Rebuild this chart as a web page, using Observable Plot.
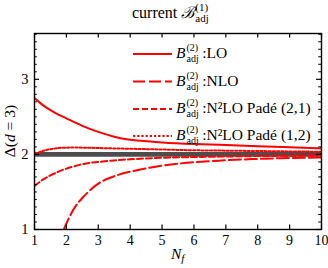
<!DOCTYPE html>
<html><head><meta charset="utf-8">
<script src="https://cdn.jsdelivr.net/npm/d3@7"></script>
<script src="https://cdn.jsdelivr.net/npm/@observablehq/plot@0.6"></script>
<style>body{margin:0;background:#fff} svg{display:block}</style>
</head><body><div id="chart"></div>
<script>
// ---- data ----
const nfLO   = [1, 1.25, 1.5, 1.75, 2, 2.5, 3, 3.5, 4, 5, 6, 7, 8, 9, 10];
const valLO  = [2.75, 2.66, 2.59, 2.53, 2.48, 2.38, 2.30, 2.235, 2.195, 2.16, 2.14, 2.125, 2.11, 2.095, 2.08];
const nfNLO  = [1.92, 2, 2.2, 2.5, 3, 3.5, 4, 5, 6, 7, 8, 9, 10];
const valNLO = [1.0, 1.08, 1.25, 1.42, 1.61, 1.71, 1.77, 1.85, 1.895, 1.922, 1.94, 1.952, 1.96];
const nfP21  = [1, 1.25, 1.5, 1.75, 2, 2.5, 3, 3.5, 4, 5, 6, 7, 8, 9, 10];
const valP21 = [1.58, 1.66, 1.72, 1.77, 1.81, 1.87, 1.90, 1.92, 1.935, 1.955, 1.965, 1.972, 1.978, 1.982, 1.985];
const nfP12  = [1, 1.25, 1.5, 1.75, 2, 2.5, 3, 4, 5, 6, 7, 8, 9, 10];
const valP12 = [2.0, 2.045, 2.07, 2.085, 2.09, 2.09, 2.085, 2.075, 2.065, 2.055, 2.05, 2.045, 2.04, 2.035];
const refLine = [2];
const xTicks = [1, 2, 3, 4, 5, 6, 7, 8, 9, 10];
const yTicks = [1, 2, 3];
const yMinor = d3.range(11, 37).map(i => i / 10).filter(v => !yTicks.includes(v));
const legendLabels = ["LO", "NLO", "N²LO Padé (2,1)", "N²LO Padé (1,2)"];

// ---- layout ----
const W = 328, H = 268, mL = 34, mR = 7, mT = 33, mB = 39;
const innerW = W - mL - mR, innerH = H - mT - mB;
const serif = "'Liberation Serif', 'Times New Roman', 'DejaVu Serif', serif";

const toRows = (xs, ys) => xs.map((x, i) => ({nf: x, v: ys[i]}));
const styles = [
  {dash: null},
  {dash: "12,4"},
  {dash: "6,3"},
  {dash: "2.2,2"}
];
const series = [toRows(nfLO, valLO), toRows(nfNLO, valNLO), toRows(nfP21, valP21), toRows(nfP12, valP12)];

const plot = Plot.plot({
  width: W, height: H,
  marginLeft: mL, marginRight: mR, marginTop: mT, marginBottom: mB,
  x: {domain: [1, 10]},
  y: {domain: [1, 3.61]},
  style: {fontFamily: serif, fontSize: "14px", background: "#fff", color: "black"},
  marks: [
    Plot.ruleY(refLine, {stroke: "#4d4d4d", strokeWidth: 4.8}),
    ...series.map((d, i) => Plot.line(d, {x: "nf", y: "v", stroke: "#ff0000", strokeWidth: 2, strokeDasharray: styles[i].dash, curve: "natural", clip: true})),
    Plot.tickX(xTicks, {x: d => d, insetTop: innerH - 4.5, stroke: "black", strokeWidth: 1.2}),
    Plot.tickX(xTicks, {x: d => d, insetBottom: innerH - 4.5, stroke: "black", strokeWidth: 1.2}),
    Plot.tickY(yTicks, {y: d => d, insetRight: innerW - 5, stroke: "black", strokeWidth: 1.2}),
    Plot.tickY(yTicks, {y: d => d, insetLeft: innerW - 5, stroke: "black", strokeWidth: 1.2}),
    Plot.tickY(yMinor, {y: d => d, insetRight: innerW - 2.8, stroke: "black", strokeWidth: 1}),
    Plot.tickY(yMinor, {y: d => d, insetLeft: innerW - 2.8, stroke: "black", strokeWidth: 1}),
    Plot.axisX({ticks: xTicks, tickFormat: d => d, tickSize: 0, tickPadding: 6, label: null, fontSize: 14, fontFamily: serif}),
    Plot.axisY({ticks: yTicks, tickFormat: d => d, tickSize: 0, tickPadding: 6, label: null, fontSize: 14.5, fontFamily: serif}),
    Plot.frame({stroke: "black", strokeWidth: 1.4})
  ]
});

document.getElementById("chart").appendChild(plot);
const svg = d3.select(plot);

function txt(g, x, y, size, s) {
  return g.append("text").attr("x", x).attr("y", y).attr("text-anchor", "start")
    .style("font-family", serif).style("font-size", size + "px").text(s);
}
// helper: base^{sup}_{sub} math symbol at (x, baseline y), returns end x
function mathSym(g, x, y, base, sup, sub, size, supSize) {
  const t = txt(g, x, y, size, base).style("font-style", "italic");
  const bw = t.node().getComputedTextLength();
  const sx = x + bw + 1;
  const s1 = txt(g, sx, y - size * 0.42, supSize, sup);
  const s2 = txt(g, sx, y + size * 0.28, supSize, sub);
  return sx + Math.max(s1.node().getComputedTextLength(), s2.node().getComputedTextLength());
}

// title
const tg = svg.append("g");
const cur = txt(tg, 132, 18, 16, "current");
const cw = cur.node().getComputedTextLength();
mathSym(tg, 132 + cw + 4, 18, "ℬ", "(1)", "adj", 16, 11);

// axis labels
const xl = txt(svg, 171, 259, 15.5, "N").style("font-style", "italic");
xl.append("tspan").style("font-size", "11px").attr("dy", 3).text("f");
svg.append("text").attr("transform", "translate(15,131) rotate(-90)")
  .attr("text-anchor", "middle").style("font-family", serif).style("font-size", "15.5px")
  .call(t => {
    t.append("tspan").text("Δ(");
    t.append("tspan").style("font-style", "italic").text("d");
    t.append("tspan").text(" = 3)");
  });

// legend
const lg = svg.append("g");
const legY = [54, 81.5, 109, 136];
legendLabels.forEach((lab, i) => {
  const y = legY[i];
  lg.append("line").attr("x1", 133).attr("x2", 172).attr("y1", y).attr("y2", y)
    .attr("stroke", "#ff0000").attr("stroke-width", 2)
    .attr("stroke-dasharray", styles[i].dash);
  const ex = mathSym(lg, 176, y + 4, "B", "(2)", "adj", 15.5, 10);
  txt(lg, ex + 3.5, y + 4, 15.5, ":" + lab);
});
</script></body></html>
